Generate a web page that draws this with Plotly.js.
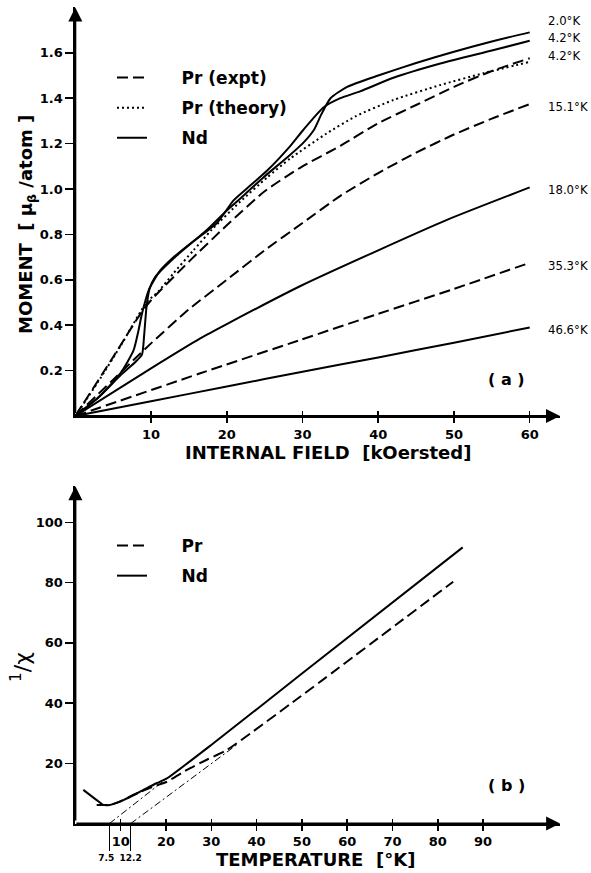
<!DOCTYPE html>
<html><head><meta charset="utf-8">
<script src="https://cdn.plot.ly/plotly-3.0.1.min.js"></script>
<style>html,body{margin:0;padding:0;background:#fff}</style>
</head><body><div id="chart" style="width:591px;height:873px"></div>
<script>
// ---------- (a) Moment vs internal field ----------
const fieldNd20  = [0, 3, 6, 8, 8.8, 9.1, 9.4, 9.8, 10.5, 13, 17.4, 20, 22, 24.8, 28, 30, 31.5, 32.5, 33.7, 35.9, 40, 45, 50, 55, 60];
const momentNd20 = [0, 0.08, 0.18, 0.24, 0.27, 0.36, 0.48, 0.56, 0.61, 0.695, 0.82, 0.905, 0.965, 1.05, 1.14, 1.20, 1.26, 1.33, 1.40, 1.45, 1.50, 1.555, 1.605, 1.65, 1.69];
const fieldNd42  = [0, 3, 6, 7.7, 8.3, 8.8, 9.7, 11.2, 13, 15.2, 18.7, 20.9, 23.1, 25.3, 28.4, 30.1, 32.8, 35, 37.6, 42, 48.2, 55, 60];
const momentNd42 = [0, 0.08, 0.19, 0.29, 0.37, 0.45, 0.555, 0.64, 0.70, 0.76, 0.85, 0.95, 1.015, 1.08, 1.19, 1.26, 1.36, 1.40, 1.43, 1.49, 1.553, 1.61, 1.653];
const fieldPr42  = [0, 5, 8.6, 10, 15, 20, 25, 30, 35, 40, 45, 50, 55, 60];
const momentPr42 = [0, 0.26, 0.45, 0.51, 0.68, 0.84, 0.99, 1.10, 1.19, 1.29, 1.37, 1.45, 1.52, 1.576];
const fieldPrTh  = [0, 3, 6, 9.4, 11, 13, 15.6, 18, 21.8, 25.3, 28.4, 33.2, 37, 42, 48.2, 53.9, 60];
const momentPrTh = [0, 0.15, 0.31, 0.50, 0.55, 0.63, 0.73, 0.82, 0.945, 1.05, 1.135, 1.245, 1.32, 1.392, 1.458, 1.51, 1.56];
const fieldPr151  = [0, 5, 8.1, 10, 15, 20, 25, 30, 35, 40, 45, 50, 55, 60];
const momentPr151 = [0, 0.16, 0.26, 0.32, 0.47, 0.60, 0.73, 0.85, 0.97, 1.07, 1.16, 1.24, 1.31, 1.374];
const fieldNd180  = [0, 10, 16.5, 20, 30, 40, 49, 60];
const momentNd180 = [0, 0.21, 0.342, 0.405, 0.577, 0.73, 0.863, 1.007];
const fieldPr353  = [0, 16.5, 29.7, 40, 50, 60];
const momentPr353 = [0, 0.188, 0.335, 0.45, 0.56, 0.675];
const fieldNd466  = [0, 10, 20, 30, 40, 50, 60];
const momentNd466 = [0, 0.065, 0.13, 0.195, 0.258, 0.323, 0.39];
const tempLabels  = ["2.0°K", "4.2°K", "4.2°K", "15.1°K", "18.0°K", "35.3°K", "46.6°K"];
const fieldTicks  = [10, 20, 30, 40, 50, 60];
const momentTicks = [0.2, 0.4, 0.6, 0.8, 1.0, 1.2, 1.4, 1.6];

// ---------- (b) inverse susceptibility vs temperature ----------
const tempNd   = [1.75, 4.7, 6.2, 7.6, 10.6, 14.3, 17.9, 20.2, 30.4, 49.6, 85.5];
const invChiNd = [11.2, 7.8, 6.2, 6.2, 7.8, 10.6, 13.4, 15.0, 26.6, 49.3, 91.7];
const tempPr   = [4.7, 7.6, 9.8, 12.8, 17.2, 20.2, 24.6, 29, 33.4, 49.6, 83.4];
const invChiPr = [6.2, 6.2, 7.3, 9.5, 12.3, 13.9, 17.8, 21.2, 24.4, 42.1, 80.3];
const extrapNdT = [7.5, 20.2];
const extrapNdY = [0, 15.0];
const extrapPrT = [12.2, 36];
const extrapPrY = [0, 26.6];
const thetaVals = [7.5, 12.2];
const thetaText = ["7.5", "12.2"];
const tempTicks = [10, 20, 30, 40, 50, 60, 70, 80, 90];
const invChiTicks = [20, 40, 60, 80, 100];

// ---------- styling ----------
const W = 591, H = 873;
const FONT = "DejaVu Sans";
const DASH = "11px,5px", DOT = "2px,3px", DASHDOT = "7px,3px,2px,3px";
const NB = "\u00a0\u00a0\u00a0\u00a0\u00a0";
const px = (a, b) => [a / W, b / W];
const py = (bot, top) => [(H - bot) / H, (H - top) / H];

function line(x, y, opts) {
  return Object.assign({
    type: "scatter", mode: "lines", x: x, y: y, hoverinfo: "skip",
    showlegend: false, xaxis: "x", yaxis: "y",
    line: { color: "#000", width: 2, shape: "spline", smoothing: 0.6 }
  }, opts);
}

const traces = [
  line(fieldPr42, momentPr42, { name: NB + "Pr (expt)", showlegend: true, legend: "legend", legendgroup: "a1", legendrank: 1,
    line: { color: "#000", width: 2, dash: DASH, shape: "spline", smoothing: 0.6 } }),
  line(fieldPrTh, momentPrTh, { name: NB + "Pr (theory)", showlegend: true, legend: "legend", legendgroup: "a2", legendrank: 2,
    line: { color: "#000", width: 2, dash: DOT, shape: "spline", smoothing: 0.6 } }),
  line(fieldNd20, momentNd20, { name: NB + "Nd", showlegend: true, legend: "legend", legendgroup: "a3", legendrank: 3 }),
  line(fieldNd42, momentNd42, {}),
  line(fieldPr151, momentPr151, { line: { color: "#000", width: 2, dash: DASH, shape: "spline", smoothing: 0.6 } }),
  line(fieldNd180, momentNd180, {}),
  line(fieldPr353, momentPr353, { line: { color: "#000", width: 2, dash: DASH, shape: "spline", smoothing: 0.6 } }),
  line(fieldNd466, momentNd466, { xaxis: "x3" }),
  line(tempPr, invChiPr, { xaxis: "x2", yaxis: "y2", name: NB + "Pr", showlegend: true, legend: "legend2", legendgroup: "b1", legendrank: 1,
    line: { color: "#000", width: 2, dash: DASH, shape: "spline", smoothing: 0.5 } }),
  line(tempNd, invChiNd, { xaxis: "x2", yaxis: "y2", name: NB + "Nd", showlegend: true, legend: "legend2", legendgroup: "b2", legendrank: 2,
    line: { color: "#000", width: 2, shape: "spline", smoothing: 0.5 } }),
  line(extrapNdT, extrapNdY, { xaxis: "x4", yaxis: "y2", line: { color: "#000", width: 1, dash: DASHDOT } }),
  line(extrapPrT, extrapPrY, { xaxis: "x5", yaxis: "y2", line: { color: "#000", width: 1, dash: DASHDOT } })
];

const tickFont = { family: FONT, size: 13, color: "#000", weight: "bold" };
const titleFont = { family: FONT, size: 18, color: "#000", weight: "bold" };
const legendFont = { family: FONT, size: 17, color: "#000", weight: "bold" };
const baseAxis = { showgrid: false, zeroline: false, showline: true, linecolor: "#000", linewidth: 2,
  ticks: "outside", tickcolor: "#000", tickwidth: 1.5, tickfont: tickFont, fixedrange: true };

const topX = px(75.3, 560), topY = py(416, 7.4);
const botX = px(75.4, 560.1), botY = py(823.6, 486.2);

function paperText(text, cx, cy, font, angle) {
  return { xref: "paper", yref: "paper", x: cx / W, y: (H - cy) / H, xanchor: "center", yanchor: "middle",
    text: text, textangle: angle || 0, showarrow: false, font: font };
}
function axisArrow(xr, yr, x, y) {
  return { xref: xr, yref: yr, x: x, y: y, axref: xr, ayref: yr, ax: 0, ay: 0, showarrow: true,
    arrowhead: 2, arrowsize: 1.4, arrowwidth: 2, arrowcolor: "#000", text: "\u00a0", borderpad: 0,
    font: { family: FONT, size: 4, color: "#000" } };
}

const layout = {
  width: W, height: H, margin: { l: 0, r: 0, t: 0, b: 0 },
  paper_bgcolor: "#fff", plot_bgcolor: "rgba(0,0,0,0)",
  xaxis: Object.assign({}, baseAxis, { domain: topX, anchor: "y", range: [0, 64], tickvals: fieldTicks, ticklen: 5 }),
  yaxis: Object.assign({}, baseAxis, { domain: topY, anchor: "x", range: [0, 1.8], tickvals: momentTicks, ticklen: 8,
    tickformat: ".1f" }),
  xaxis3: { overlaying: "x", anchor: "y", range: [0, 64], tickvals: fieldTicks, ticks: "inside", ticklen: 5,
    tickwidth: 1.5, tickcolor: "#000", showticklabels: false, showline: false, showgrid: false, zeroline: false, fixedrange: true },
  xaxis2: Object.assign({}, baseAxis, { domain: botX, anchor: "y2", range: [0, 107], tickvals: tempTicks, ticklen: 5 }),
  yaxis2: Object.assign({}, baseAxis, { domain: botY, anchor: "x2", range: [0, 112], tickvals: invChiTicks, ticklen: 8 }),
  xaxis4: { overlaying: "x2", anchor: "y2", range: [0, 107], tickvals: tempTicks, ticks: "inside", ticklen: 5,
    tickwidth: 1.5, tickcolor: "#000", showticklabels: false, showline: false, showgrid: false, zeroline: false, fixedrange: true },
  xaxis5: { overlaying: "x2", anchor: "y2", range: [0, 107], tickvals: thetaVals, ticktext: [thetaText[0] + "\u00a0\u00a0", thetaText[1]], ticks: "outside",
    ticklen: 26, tickwidth: 1, tickcolor: "#000", tickangle: 0, tickfont: { family: FONT, size: 9, color: "#000", weight: "bold" },
    showline: false, showgrid: false, zeroline: false, fixedrange: true },
  legend: { x: 112 / W, y: (H - 60) / H, xanchor: "left", yanchor: "top", bgcolor: "rgba(0,0,0,0)",
    font: legendFont, tracegroupgap: 5, traceorder: "grouped" },
  legend2: { x: 112 / W, y: (H - 528) / H, xanchor: "left", yanchor: "top", bgcolor: "rgba(0,0,0,0)",
    font: legendFont, tracegroupgap: 5, traceorder: "grouped" },
  annotations: [
    axisArrow("x", "y", 64, 0),
    axisArrow("x", "y", 0, 1.8),
    axisArrow("x2", "y2", 107, 0),
    axisArrow("x2", "y2", 0, 112),
    { xref: "x", yref: "y", x: -2.3, y: -0.07, text: "0", showarrow: false, font: tickFont },
    { xref: "x2", yref: "y2", x: -3.8, y: -4.8, text: "0", showarrow: false, font: tickFont },
    { xref: "x", yref: "y", x: 56.9, y: 0.159, text: "( a )", showarrow: false, font: { family: FONT, size: 16, color: "#000", weight: "bold" } },
    { xref: "x2", yref: "y2", x: 95.1, y: 12.8, text: "( b )", showarrow: false, font: { family: FONT, size: 16, color: "#000", weight: "bold" } },
    // axis titles
    paperText("INTERNAL FIELD  [kOersted]", 328, 453, titleFont),
    paperText("MOMENT  [ μ<sub>β</sub> /atom ]", 27, 225, titleFont, -90),
    paperText("TEMPERATURE  [°K]", 315, 859, titleFont),
    paperText("<sup>1</sup>/χ", 21, 667, { family: FONT, size: 22, color: "#000" }, -90)
  ]
};
const labelY = [1.744, 1.667, 1.586, 1.363, 0.996, 0.665, 0.379];
tempLabels.forEach((t, i) => layout.annotations.push({
  xref: "x", yref: "y", x: 62.3, y: labelY[i], xanchor: "left", text: t, showarrow: false, borderpad: 0,
  font: { family: "DejaVu Sans Condensed, DejaVu Sans", size: 13, color: "#000" }
}));

Plotly.newPlot("chart", traces, layout, { staticPlot: true });
</script></body></html>
